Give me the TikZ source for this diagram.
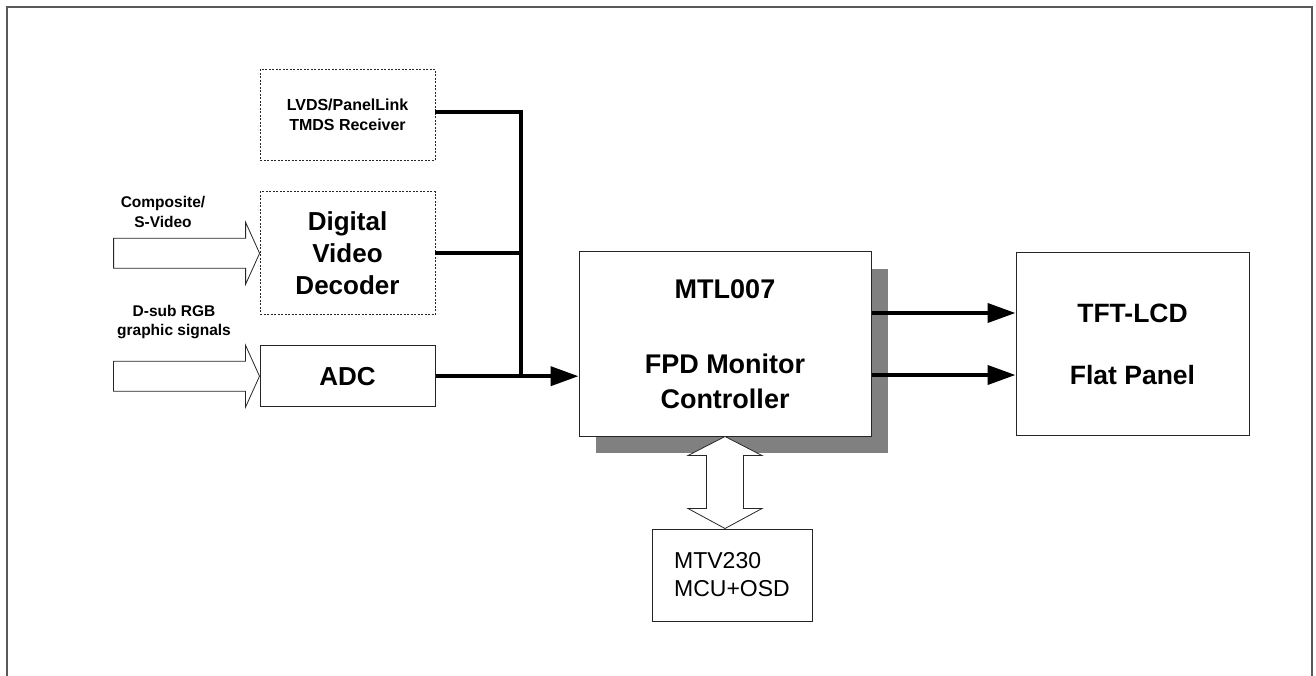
\documentclass[tikz,border=0pt]{standalone}
\usepackage{fontspec}
\setmainfont{Liberation Sans}
\usetikzlibrary{calc}
\usetikzlibrary{positioning}
\usetikzlibrary{arrows.meta}
\usetikzlibrary{shadows}

\begin{document}
\begin{tikzpicture}[x=1pt, y=-1pt]
      \tikzstyle{box} = [draw=black!85, line width=1pt, fill=white, align=center, inner sep=0pt, font=\bfseries]
      \tikzstyle{optional} = [box, dash pattern=on 2pt off 1.5pt, line width=0.8pt]
      \tikzstyle{wire} = [line width=4pt, line join=miter]
      \tikzstyle{tip} = [-{Triangle[length=28pt, width=19pt]}]
      \tikzstyle{blockarrow} = [draw=black!85, line width=0.8pt, fill=white, line join=miter]
      \tikzstyle{small} = [align=center, font=\bfseries\fontsize{15.5}{19.5}\selectfont]

      \useasboundingbox (0,0) rectangle (1316,676);
      \draw[line width=2pt, draw=black!65] (7,676) -- (7,7) -- (1312,7) -- (1312,676);

      \node (lvds) [optional, minimum width=175, minimum height=91, font=\bfseries\fontsize{16}{20}\selectfont] at (347.5,115) {LVDS/PanelLink\\TMDS Receiver};
      \node (decoder) [optional, minimum width=175, minimum height=123, below=30.5pt of lvds, font=\bfseries\fontsize{26}{32}\selectfont] {Digital\\Video\\Decoder};
      \node (adc) [box, minimum width=175, minimum height=61, below=30pt of decoder, font=\bfseries\fontsize{26}{32}\selectfont] {ADC};

      \node (mtl) [box, minimum width=292, minimum height=184, drop shadow={shadow xshift=17pt, shadow yshift=-17pt, fill=black!50, opacity=1}, font=\bfseries\fontsize{27}{35}\selectfont] at (725,344) {MTL007\\[40pt]FPD Monitor\\Controller};
      \node (tft) [box, minimum width=233, minimum height=183, right=144pt of mtl, font=\bfseries\fontsize{26.5}{33}\selectfont] {TFT-LCD\\[29pt]Flat Panel};
      \node (mtv) [box, minimum width=160, minimum height=92, below=92pt of mtl, xshift=7pt, align=left, font=\fontsize{23}{28}\selectfont] {MTV230\\MCU+OSD};

      \node (composite) [small] at (163,212) {Composite/\\S-Video};
      \node (dsub) [small] at (174,322) {D-sub RGB\\graphic signals};

      \coordinate (junction) at ($(adc.east)+(85,0)$);
      \draw[wire] ([yshift=3pt]lvds.east) -| (junction);
      \draw[wire] (decoder.east) -- (decoder.east -| junction);
      \draw[wire, tip] (adc.east) -- (adc.east -| mtl.west);
      \draw[wire, tip] ([yshift=31pt]mtl.east) -- ([yshift=31pt]mtl.east -| tft.west);
      \draw[wire, tip] ([yshift=-31pt]mtl.east) -- ([yshift=-31pt]mtl.east -| tft.west);

      \foreach \target in {decoder, adc}
        \draw[blockarrow] (\target.west) -- ++(-14,-31) -- ++(0,16) -- ++(-132,0) -- ++(0,30) -- ++(132,0) -- ++(0,16) -- cycle;

      \draw[blockarrow] (mtl.south) -- ++(37,19) -- ++(-18.5,0) -- ++(0,53) -- ++(18.5,0) -- (mtl.south |- mtv.north) -- ++(-37,-20) -- ++(18.5,0) -- ++(0,-53) -- ++(-18.5,0) -- cycle;
    \end{tikzpicture}
\end{document}
